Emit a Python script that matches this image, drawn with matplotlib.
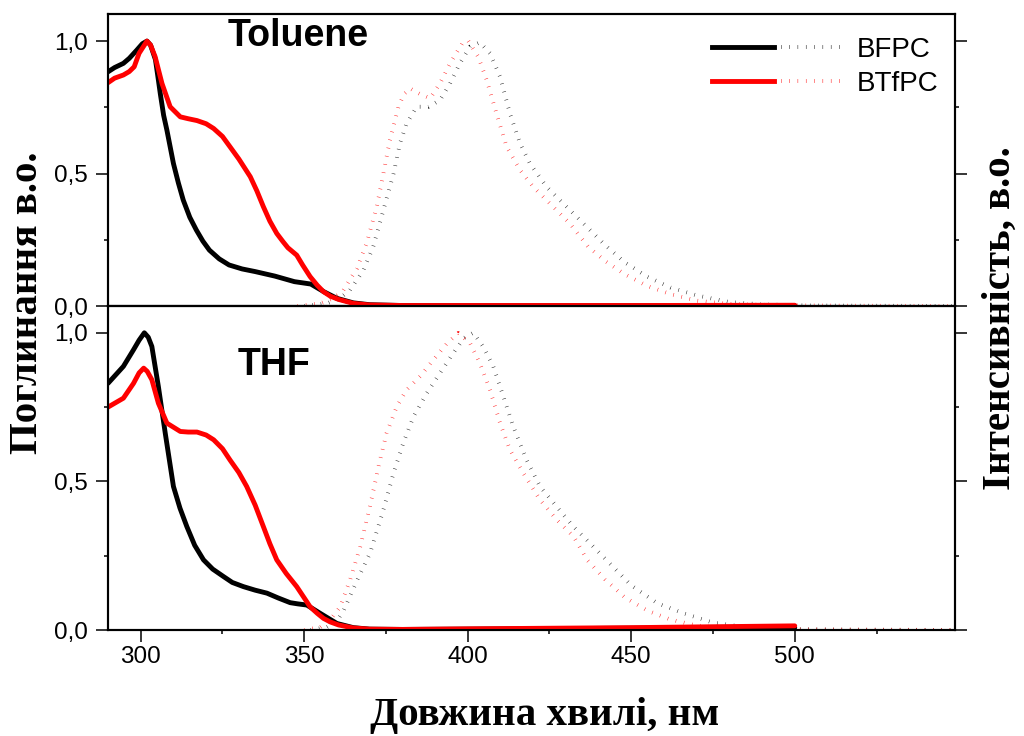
import matplotlib
matplotlib.use('Agg')
import matplotlib.pyplot as plt
from matplotlib.lines import Line2D
from matplotlib.legend_handler import HandlerTuple
from matplotlib.ticker import MultipleLocator

plt.rcParams['font.family'] = ['Liberation Sans', 'DejaVu Sans']

# ---- absorbance, toluene ----
tol_bfpc_wl = [290, 292, 294.7, 296.5, 298.8, 300.5, 301.9, 303, 304.5, 305.2, 306,
               307, 308, 310, 311.5, 313, 315, 317, 319, 321, 324, 327, 331, 335,
               341, 347, 352, 356, 360, 365, 370, 380, 400, 450, 500]
tol_bfpc_abs = [0.884, 0.90, 0.916, 0.935, 0.966, 0.99, 1.0, 0.985, 0.93, 0.87, 0.80,
                0.72, 0.664, 0.538, 0.465, 0.40, 0.335, 0.287, 0.245, 0.211, 0.178,
                0.155, 0.14, 0.13, 0.113, 0.092, 0.083, 0.054, 0.029, 0.012, 0.005,
                0.002, 0.001, 0.001, 0.002]

tol_btfpc_wl = [290, 292, 294.7, 296.5, 298, 299.5, 301.9, 303, 304.4, 306.5, 309,
                312.1, 314.5, 317.2, 320, 322.3, 325, 327.3, 330, 333.5, 335.5, 337.5,
                339.5, 341.6, 343.5, 345, 347.7, 349.5, 351.8, 354, 355.9, 358, 360.5,
                365, 370, 380, 400, 450, 500]
tol_btfpc_abs = [0.843, 0.86, 0.872, 0.885, 0.903, 0.954, 1.0, 0.985, 0.941, 0.84,
                 0.752, 0.714, 0.707, 0.70, 0.688, 0.67, 0.64, 0.601, 0.555, 0.488,
                 0.435, 0.375, 0.32, 0.274, 0.243, 0.22, 0.192, 0.155, 0.111, 0.078,
                 0.054, 0.037, 0.025, 0.01, 0.004, 0.002, 0.002, 0.002, 0.003]

# ---- absorbance, THF ----
thf_bfpc_wl = [290, 294.7, 297.8, 299.5, 301.1, 302.3, 303.4, 305.4, 307.5, 310,
               312, 314.1, 316.5, 319.2, 322, 325.3, 328, 331.4, 335, 338.6, 342,
               345.7, 348, 350.8, 354.9, 360, 365, 370, 380, 400, 450, 500]
thf_bfpc_abs = [0.83, 0.887, 0.943, 0.975, 1.0, 0.985, 0.954, 0.819, 0.662, 0.483,
                0.41, 0.348, 0.285, 0.236, 0.205, 0.18, 0.16, 0.146, 0.134, 0.124,
                0.108, 0.092, 0.088, 0.084, 0.056, 0.022, 0.008, 0.003, 0.002, 0.003,
                0.006, 0.008]

thf_btfpc_wl = [290, 294.7, 297.8, 299.5, 300.9, 302, 303.4, 305.4, 308, 312.1,
                314.5, 317.2, 320, 322.3, 325, 327.3, 330, 332.4, 335, 337.5, 339.5,
                341.6, 344.5, 347.7, 350, 351.8, 354, 355.9, 358, 360.5, 365, 370,
                380, 400, 450, 500]
thf_btfpc_abs = [0.75, 0.78, 0.83, 0.865, 0.881, 0.87, 0.842, 0.763, 0.696, 0.668,
                 0.666, 0.666, 0.656, 0.64, 0.61, 0.572, 0.53, 0.483, 0.42, 0.348,
                 0.29, 0.236, 0.19, 0.146, 0.108, 0.078, 0.056, 0.039, 0.027, 0.017,
                 0.007, 0.003, 0.002, 0.004, 0.008, 0.014]

# ---- emission, toluene ----
tol_bfpc_pl_wl = [350, 357, 361, 364, 368.1, 371.1, 374.2, 377.3, 379.3, 381.3, 384.4,
                  388, 391.5, 394.6, 397.6, 400.7, 403.7, 406.8, 409.9, 412.9, 416,
                  419, 424.1, 430.2, 436.4, 442, 448, 455, 462, 470, 480, 490, 505,
                  525, 549]
tol_bfpc_pl = [0, 0.01, 0.03, 0.06, 0.135, 0.224, 0.362, 0.5, 0.614, 0.689, 0.752,
               0.752, 0.777, 0.84, 0.916, 0.979, 0.995, 0.954, 0.865, 0.727, 0.614,
               0.538, 0.45, 0.375, 0.299, 0.23, 0.165, 0.11, 0.07, 0.04, 0.015,
               0.006, 0.002, 0.001, 0]

tol_btfpc_pl_wl = [348, 355, 359, 362, 366.1, 369.1, 372.2, 374.2, 376.2, 378.8,
                   380.5, 382.4, 385.4, 388.5, 391.5, 394.6, 398.6, 400.2, 403.2,
                   405.8, 408.8, 411.9, 416, 420, 425.1, 431.2, 436.8, 442, 448, 455,
                   462, 470, 480, 495, 520, 549]
tol_btfpc_pl = [0, 0.01, 0.03, 0.06, 0.142, 0.237, 0.375, 0.5, 0.626, 0.752, 0.80,
                0.821, 0.80, 0.784, 0.84, 0.916, 0.997, 1.0, 0.941, 0.853, 0.727,
                0.601, 0.513, 0.45, 0.387, 0.312, 0.224, 0.17, 0.12, 0.075, 0.045,
                0.02, 0.008, 0.003, 0.001, 0]

# ---- emission, THF ----
thf_bfpc_pl_wl = [352, 357, 360, 362.1, 366.2, 370.1, 374.2, 377.3, 380.3, 383.4,
                  387.5, 391.5, 395.6, 398.8, 401.7, 404.7, 407.8, 410.9, 413.9, 418,
                  422.1, 427.2, 432.3, 436.4, 442, 450, 458, 465.8, 475, 485, 500,
                  520, 549]
thf_bfpc_pl = [0, 0.01, 0.03, 0.067, 0.168, 0.258, 0.404, 0.528, 0.629, 0.718, 0.797,
               0.864, 0.932, 0.982, 1.0, 0.954, 0.887, 0.786, 0.685, 0.572, 0.483,
               0.415, 0.348, 0.303, 0.24, 0.15, 0.09, 0.057, 0.025, 0.01, 0.003,
               0.001, 0]

thf_btfpc_pl_wl = [350, 355, 358, 361, 364, 367.1, 370.1, 372.7, 375.2, 378.3, 381.3,
                   385.4, 389.5, 393.7, 397.1, 400.7, 403.7, 406.8, 409.9, 412.9, 417,
                   422.1, 427.3, 432.4, 436.5, 442, 448, 455, 462, 470, 480, 495, 520,
                   549]
thf_btfpc_pl = [0, 0.01, 0.035, 0.078, 0.168, 0.28, 0.415, 0.55, 0.662, 0.752, 0.808,
                0.853, 0.909, 0.965, 0.999, 0.965, 0.898, 0.808, 0.696, 0.606, 0.528,
                0.438, 0.37, 0.314, 0.236, 0.17, 0.11, 0.065, 0.035, 0.015, 0.006,
                0.002, 0.001, 0]

solvents = ['Toluene', 'THF']
compounds = ['BFPC', 'BTfPC']
colors = ['black', 'red']

ABS_LW = 3.5
PL_STYLE = dict(linewidth=2.8, linestyle=(0, (0.12, 2.02)), dash_capstyle='butt')


def comma_fmt(v, pos):
    return f'{v:.1f}'.replace('.', ',')


def style_axis(ax, show_xlabels):
    ax.set_xlim(290, 549)
    ax.xaxis.set_major_locator(MultipleLocator(50))
    ax.xaxis.set_minor_locator(MultipleLocator(25))
    ax.yaxis.set_major_locator(MultipleLocator(0.5))
    ax.yaxis.set_minor_locator(MultipleLocator(0.25))
    ax.yaxis.set_major_formatter(plt.FuncFormatter(comma_fmt))
    ax.tick_params(which='both', direction='out', width=1.1, labelsize=17.5,
                   top=False, right=False, labelbottom=show_xlabels)
    ax.tick_params(which='major', length=8.5)
    ax.tick_params(which='minor', length=3)
    ax.tick_params(axis='y', pad=6)
    ax.tick_params(axis='x', pad=3)
    for sp in ax.spines.values():
        sp.set_linewidth(1.5)


fig = plt.figure(figsize=(10.24, 7.36), dpi=100)
ax_top = fig.add_axes([0.1055, 0.5842, 0.8271, 0.3967])
ax_bot = fig.add_axes([0.1055, 0.1440, 0.8271, 0.4402])

panels = [
    (ax_top, (0, 1.102), [(tol_bfpc_wl, tol_bfpc_abs), (tol_btfpc_wl, tol_btfpc_abs)],
     [(tol_bfpc_pl_wl, tol_bfpc_pl), (tol_btfpc_pl_wl, tol_btfpc_pl)]),
    (ax_bot, (0, 1.09), [(thf_bfpc_wl, thf_bfpc_abs), (thf_btfpc_wl, thf_btfpc_abs)],
     [(thf_bfpc_pl_wl, thf_bfpc_pl), (thf_btfpc_pl_wl, thf_btfpc_pl)]),
]

for i, (ax, ylim, absorb, emis) in enumerate(panels):
    style_axis(ax, show_xlabels=(i == 1))
    ax.set_ylim(*ylim)
    # right axis carries the emission intensity (same 0..1 scale)
    tw = ax.twinx()
    tw.set_ylim(*ylim)
    tw.yaxis.set_major_locator(MultipleLocator(0.5))
    tw.yaxis.set_minor_locator(MultipleLocator(0.25))
    tw.tick_params(which='both', direction='out', width=1.1, labelright=False)
    tw.tick_params(which='major', length=8.5)
    tw.tick_params(which='minor', length=3)
    for sp in tw.spines.values():
        sp.set_linewidth(1.5)
    for (wl, pl), c in zip(emis, colors):
        tw.plot(wl, pl, color=c, **PL_STYLE)
    for (wl, a), c in zip(absorb, colors):
        tw.plot(wl, a, color=c, linewidth=ABS_LW, solid_joinstyle='round',
                solid_capstyle='round')

ax_top.text(0.224, 0.925, solvents[0], transform=ax_top.transAxes, ha='center',
            va='center', fontsize=27, fontweight='bold')
ax_bot.text(0.196, 0.818, solvents[1], transform=ax_bot.transAxes, ha='center',
            va='center', fontsize=27, fontweight='bold')

handles = []
for c in colors:
    solid = Line2D([], [], color=c, linewidth=ABS_LW)
    dots = Line2D([], [], color=c, **PL_STYLE)
    handles.append((solid, dots))
ax_top.legend(handles, compounds, handler_map={tuple: HandlerTuple(ndivide=None, pad=0.25)},
              loc='upper left', bbox_to_anchor=(0.713, 0.922), frameon=False,
              fontsize=20, handlelength=4.7, handletextpad=0.5, borderpad=0,
              borderaxespad=0, labelspacing=0.3)

label_font = dict(family=['Liberation Serif', 'DejaVu Serif'], weight='bold', size=29.5)
fig.text(0.027, 1 - 303 / 736, 'Поглинання в.о.', rotation=90, ha='center',
         va='center', **label_font)
fig.text(0.977, 1 - 318 / 736, 'Інтенсивність, в.о.', rotation=90, ha='center',
         va='center', **label_font)
fig.text(0.532, 1 - 716 / 736, 'Довжина хвилі, нм', ha='center', va='center',
         **label_font)

fig.savefig('out.png', dpi=100)
